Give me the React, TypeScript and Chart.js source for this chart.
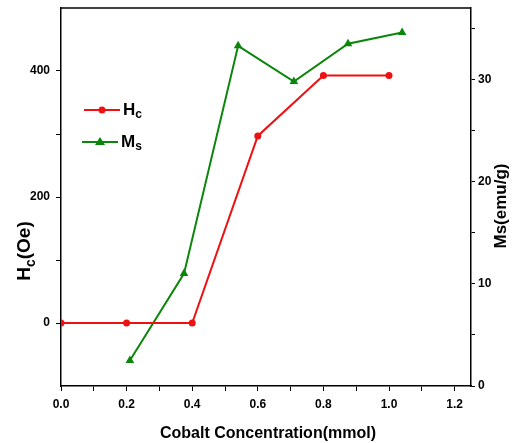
import React, { useEffect, useRef } from "react";
import { Chart, registerables } from "chart.js";

Chart.register(...registerables);

const hcX = [0, 0.2, 0.4, 0.6, 0.8, 1.0];
const hcY = [0, 0, 0, 297, 393, 393];
const msX = [0.21, 0.375, 0.54, 0.71, 0.875, 1.04];
const msY = [2.5, 11, 33.3, 29.8, 33.5, 34.6];

const xTicks = [0, 0.1, 0.2, 0.3, 0.4, 0.5, 0.6, 0.7, 0.8, 0.9, 1.0, 1.1, 1.2];
const xLabeled = [0, 0.2, 0.4, 0.6, 0.8, 1.0, 1.2];
const hcTicks = [0, 100, 200, 300, 400];
const hcLabeled = [0, 200, 400];
const msTicks = [0, 5, 10, 15, 20, 25, 30, 35];
const msLabeled = [0, 10, 20, 30];

const RED = "#ee1111";
const GREEN = "#0a860a";
const TICK_FONT = { family: '"Liberation Sans", Arial, sans-serif', weight: "bold" as const, size: 12 };
const TITLE_FAMILY = '"Liberation Sans", Arial, sans-serif';

function drawSubText(ctx: CanvasRenderingContext2D, parts: { t: string; sub?: boolean }[], size: number, x: number, y: number, align: "left" | "center") {
  let total = 0;
  const widths = parts.map((p) => {
    ctx.font = `bold ${p.sub ? Math.round(size * 0.72) : size}px ${TITLE_FAMILY}`;
    const w = ctx.measureText(p.t).width;
    total += w;
    return w;
  });
  let cx = align === "center" ? x - total / 2 : x;
  parts.forEach((p, i) => {
    ctx.font = `bold ${p.sub ? Math.round(size * 0.72) : size}px ${TITLE_FAMILY}`;
    ctx.fillText(p.t, cx, p.sub ? y + size * 0.3 : y);
    cx += widths[i];
  });
}

const decorPlugin = {
  id: "decor",
  afterDraw(chart: any) {
    const ctx: CanvasRenderingContext2D = chart.ctx;
    const ca = chart.chartArea;
    ctx.save();
    ctx.strokeStyle = "#000";
    ctx.lineWidth = 1.5;
    ctx.beginPath();
    ctx.moveTo(ca.left, ca.top);
    ctx.lineTo(ca.right, ca.top);
    ctx.stroke();

    ctx.fillStyle = "#000";
    ctx.textBaseline = "middle";
    ctx.textAlign = "left";
    ctx.save();
    ctx.font = `bold 16px ${TITLE_FAMILY}`;
    ctx.textAlign = "center";
    ctx.fillText("Cobalt Concentration(mmol)", 268, 434, 220);
    ctx.restore();

    ctx.save();
    ctx.translate(25, 251);
    ctx.rotate(-Math.PI / 2);
    drawSubText(ctx, [{ t: "H" }, { t: "c", sub: true }, { t: "(Oe)" }], 19, 0, 0, "center");
    ctx.restore();

    ctx.save();
    ctx.translate(501, 206);
    ctx.rotate(-Math.PI / 2);
    ctx.font = `bold 17px ${TITLE_FAMILY}`;
    ctx.textAlign = "center";
    ctx.fillText("Ms(emu/g)", 0, 0);
    ctx.restore();

    const items = [
      { color: RED, y: 110, x0: 84, style: "circle", label: [{ t: "H" }, { t: "c", sub: true }] },
      { color: GREEN, y: 142, x0: 82, style: "triangle", label: [{ t: "M" }, { t: "s", sub: true }] },
    ];
    items.forEach((it) => {
      ctx.strokeStyle = it.color;
      ctx.fillStyle = it.color;
      ctx.lineWidth = 2;
      ctx.beginPath();
      ctx.moveTo(it.x0, it.y);
      ctx.lineTo(it.x0 + 36, it.y);
      ctx.stroke();
      ctx.beginPath();
      if (it.style === "circle") {
        ctx.arc(it.x0 + 18, it.y, 3.5, 0, Math.PI * 2);
        ctx.fill();
      } else {
        ctx.moveTo(it.x0 + 18, it.y - 5);
        ctx.lineTo(it.x0 + 23, it.y + 3);
        ctx.lineTo(it.x0 + 13, it.y + 3);
        ctx.closePath();
        ctx.fill();
      }
      ctx.fillStyle = "#000";
      ctx.textAlign = "left";
      drawSubText(ctx, it.label as any, 17, it.x0 + 39, it.y, "left");
    });
    ctx.restore();
  },
};

export default function App() {
  const ref = useRef<HTMLCanvasElement | null>(null);
  useEffect(() => {
    document.body.style.margin = "0";
    const ctx = ref.current!.getContext("2d")!;
    const gridCommon = {
      display: true,
      drawOnChartArea: false,
      drawTicks: true,
      tickLength: 5,
      color: "#000",
      lineWidth: 1,
    };
    const border = { display: true, color: "#000", width: 1.5 };
    const lab = (list: number[], digits: number) => (v: any) => {
      const n = Number(v);
      return list.some((l) => Math.abs(l - n) < 1e-6) ? n.toFixed(digits) : "";
    };
    const noPad = (s: any) => {
      s.paddingTop = 0;
      s.paddingBottom = 0;
      s.paddingLeft = 0;
      s.paddingRight = 0;
    };
    const chart = new Chart(ctx, {
      type: "scatter",
      data: {
        datasets: [
          {
            label: "Hc",
            data: hcX.map((x, i) => ({ x, y: hcY[i] })),
            yAxisID: "y",
            showLine: true,
            borderColor: RED,
            backgroundColor: RED,
            borderWidth: 2,
            pointStyle: "circle",
            pointRadius: 3.5,
            pointBorderWidth: 0,
          },
          {
            label: "Ms",
            data: msX.map((x, i) => ({ x, y: msY[i] })),
            yAxisID: "y1",
            showLine: true,
            borderColor: GREEN,
            backgroundColor: GREEN,
            borderWidth: 2,
            pointStyle: "triangle",
            pointRadius: 5,
            pointBorderWidth: 0,
          },
        ],
      },
      options: {
        animation: false,
        responsive: false,
        layout: { padding: { top: 8, left: 0, right: 0, bottom: 0 } },
        plugins: { legend: { display: false }, tooltip: { enabled: false } },
        scales: {
          x: {
            type: "linear",
            min: 0,
            max: 1.25,
            grid: gridCommon,
            border,
            afterFit: (s: any) => {
              s.height = 57;
              noPad(s);
            },
            afterBuildTicks: (s: any) => {
              s.ticks = xTicks.map((value) => ({ value }));
            },
            ticks: {
              autoSkip: false,
              maxRotation: 0,
              padding: 6,
              color: "#000",
              font: TICK_FONT,
              callback: lab(xLabeled, 1),
            },
          },
          y: {
            type: "linear",
            position: "left",
            min: -100,
            max: 500,
            grid: gridCommon,
            border,
            afterFit: (s: any) => {
              s.width = 61;
              noPad(s);
            },
            afterBuildTicks: (s: any) => {
              s.ticks = hcTicks.map((value) => ({ value }));
            },
            ticks: {
              autoSkip: false,
              padding: 6,
              color: "#000",
              font: TICK_FONT,
              callback: lab(hcLabeled, 0),
            },
          },
          y1: {
            type: "linear",
            position: "right",
            min: 0,
            max: 37,
            grid: { ...gridCommon, tickLength: 4 },
            border,
            afterFit: (s: any) => {
              s.width = 45;
              noPad(s);
            },
            afterBuildTicks: (s: any) => {
              s.ticks = msTicks.map((value) => ({ value }));
            },
            ticks: {
              autoSkip: false,
              padding: 3,
              color: "#000",
              font: TICK_FONT,
              callback: lab(msLabeled, 0),
            },
          },
        },
      },
      plugins: [decorPlugin],
    } as any);
    return () => chart.destroy();
  }, []);
  return (
    <div style={{ position: "fixed", left: 0, top: 0, width: 516, height: 443, background: "#fff" }}>
      <canvas ref={ref} width={516} height={443} style={{ display: "block" }} />
    </div>
  );
}
